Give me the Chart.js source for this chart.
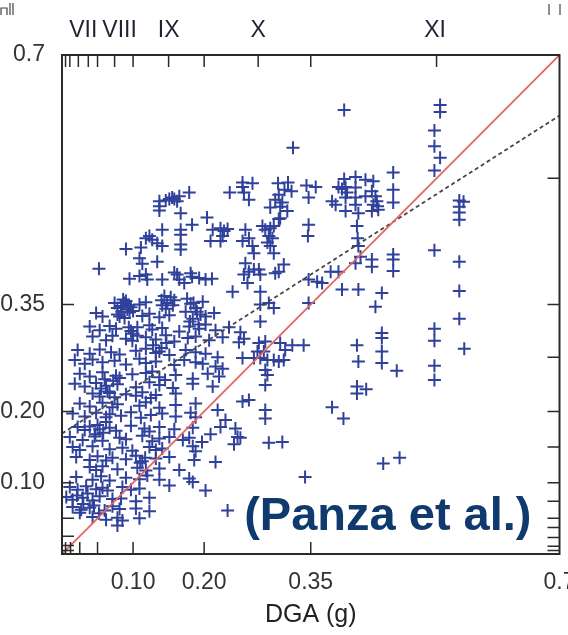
<!DOCTYPE html>
<html>
<head>
<meta charset="utf-8">
<title>DGA vs PGA</title>
<script src="https://cdn.jsdelivr.net/npm/chart.js@4/dist/chart.umd.min.js"></script>
<style>
  html, body { margin: 0; padding: 0; background: #fff; }
</style>
</head>
<body>
<canvas id="dgaChart" width="568" height="635"></canvas>
<script>
// observed pairs [DGA, PGA] in g
const denseCluster = [
  [0.074,0.352],[0.083,0.348],[0.090,0.355],[0.097,0.346],[0.109,0.350],[0.118,0.353],[0.141,0.349],[0.146,0.344],[0.158,0.356],[0.181,0.351],[0.188,0.345],[0.198,0.354],
  [0.048,0.338],[0.057,0.333],[0.078,0.336],[0.088,0.331],[0.095,0.339],[0.113,0.334],[0.123,0.337],[0.137,0.332],[0.151,0.335],[0.174,0.340],[0.184,0.330],[0.195,0.336],[0.202,0.333],[0.214,0.338],
  [0.039,0.319],[0.053,0.314],[0.067,0.320],[0.076,0.316],[0.097,0.313],[0.106,0.318],[0.123,0.321],[0.127,0.315],[0.141,0.317],[0.165,0.312],[0.179,0.319],[0.193,0.316],[0.202,0.322],[0.216,0.314],[0.235,0.318],[0.251,0.311],
  [0.043,0.305],[0.062,0.300],[0.071,0.306],[0.090,0.302],[0.099,0.299],[0.118,0.304],[0.132,0.301],[0.146,0.307],[0.158,0.298],[0.177,0.303],[0.188,0.305],[0.207,0.300],[0.226,0.304],[0.249,0.297],[0.256,0.302],
  [0.022,0.286],[0.039,0.281],[0.053,0.287],[0.069,0.283],[0.081,0.280],[0.104,0.285],[0.118,0.288],[0.132,0.282],[0.137,0.284],[0.151,0.279],[0.174,0.286],[0.188,0.283],[0.202,0.281],[0.219,0.276],
  [0.018,0.272],[0.032,0.267],[0.043,0.273],[0.057,0.269],[0.074,0.271],[0.090,0.266],[0.109,0.274],[0.118,0.268],[0.132,0.270],[0.158,0.265],[0.172,0.272],[0.188,0.269],[0.198,0.267],[0.216,0.263],[0.226,0.260],[0.254,0.275],
  [0.025,0.253],[0.039,0.249],[0.057,0.255],[0.076,0.250],[0.081,0.247],[0.099,0.252],[0.118,0.254],[0.137,0.248],[0.160,0.251],[0.184,0.246],[0.205,0.253],[0.221,0.249],
  [0.018,0.239],[0.032,0.235],[0.048,0.240],[0.062,0.236],[0.078,0.238],[0.104,0.234],[0.123,0.241],[0.137,0.237],[0.156,0.233],[0.184,0.239],[0.212,0.235],
  [0.043,0.225],[0.053,0.221],[0.067,0.226],[0.074,0.220],[0.090,0.224],[0.104,0.222],[0.113,0.227],[0.125,0.219],[0.132,0.223],[0.160,0.225],
  [0.025,0.211],[0.039,0.207],[0.057,0.212],[0.071,0.206],[0.078,0.210],[0.109,0.208],[0.118,0.213],[0.137,0.205],[0.160,0.209],[0.188,0.211],
  [0.015,0.197],[0.032,0.193],[0.048,0.198],[0.062,0.192],[0.067,0.196],[0.083,0.194],[0.097,0.199],[0.111,0.191],[0.125,0.195],[0.141,0.197],[0.160,0.193],[0.181,0.198],[0.188,0.192],
  [0.022,0.178],[0.032,0.174],[0.039,0.179],[0.053,0.175],[0.067,0.177],[0.076,0.173],[0.097,0.180],[0.116,0.176],[0.123,0.172],[0.137,0.178],[0.158,0.175],[0.184,0.177],
  [0.011,0.164],[0.029,0.160],[0.046,0.165],[0.057,0.159],[0.081,0.163],[0.090,0.161],[0.113,0.166],[0.127,0.158],[0.137,0.162],[0.151,0.164],[0.170,0.160],[0.179,0.163],
  [0.015,0.150],[0.025,0.146],[0.043,0.151],[0.067,0.147],[0.085,0.149],[0.099,0.145],[0.123,0.150],[0.132,0.146],[0.141,0.148],[0.184,0.151],[0.188,0.144],
  [0.020,0.136],[0.039,0.132],[0.050,0.137],[0.062,0.131],[0.071,0.135],[0.090,0.133],[0.104,0.138],[0.113,0.130],[0.132,0.134],[0.151,0.136],[0.186,0.132],
  [0.039,0.122],[0.048,0.118],[0.057,0.123],[0.078,0.119],[0.106,0.121],[0.118,0.117],[0.137,0.120],[0.165,0.118],
  [0.020,0.108],[0.043,0.104],[0.055,0.109],[0.067,0.103],[0.090,0.107],[0.109,0.105],[0.120,0.110],[0.137,0.104],[0.179,0.106],[0.184,0.101],
  [0.011,0.094],[0.022,0.090],[0.034,0.095],[0.048,0.091],[0.057,0.093],[0.064,0.089],[0.085,0.094],[0.097,0.090],[0.109,0.092],[0.151,0.096],
  [0.006,0.080],[0.015,0.076],[0.029,0.079],[0.043,0.075],[0.053,0.081],[0.071,0.077],[0.083,0.078],[0.104,0.074],[0.123,0.079],
  [0.015,0.066],[0.027,0.062],[0.039,0.065],[0.060,0.061],[0.071,0.067],[0.081,0.063],[0.104,0.064],[0.123,0.060],
  [0.043,0.052],[0.062,0.048],[0.078,0.051],[0.085,0.047],[0.109,0.050],[0.078,0.040]
];

// tightly packed blobs inside the main cloud
const denseBlobs = [
  [0.078,0.345],[0.084,0.340],[0.088,0.352],[0.092,0.343],[0.081,0.333],[0.094,0.349],[0.086,0.357],[0.100,0.341],
  [0.140,0.356],[0.148,0.352],[0.153,0.360],[0.144,0.362],[0.156,0.349],
  [0.176,0.358],[0.185,0.352],[0.190,0.340],[0.180,0.326],[0.192,0.322],
  [0.100,0.309],[0.106,0.306],[0.094,0.318],
  [0.050,0.181],[0.058,0.170],[0.062,0.185],[0.047,0.168],
  [0.021,0.082],[0.030,0.070],[0.036,0.085],[0.045,0.068],[0.025,0.058],[0.052,0.057],
  [0.055,0.232],[0.064,0.228],[0.072,0.243],[0.060,0.245],
  [0.110,0.128],[0.117,0.135],
  [0.128,0.293],[0.140,0.289],[0.147,0.296],
  [0.127,0.256],[0.145,0.244]
];

const lowerRightGroup = [
  [0.263,0.216],[0.254,0.214],[0.219,0.202],[0.230,0.188],[0.223,0.178],[0.244,0.176],[0.247,0.164],
  [0.242,0.154],[0.251,0.163],[0.209,0.168],[0.197,0.157],[0.216,0.129],[0.202,0.089],[0.233,0.061],
  [0.279,0.350],[0.291,0.352],[0.298,0.345],[0.279,0.326],[0.347,0.352],[0.441,0.347],
  [0.286,0.298],[0.277,0.296],[0.275,0.284],[0.284,0.284],[0.289,0.272],[0.279,0.275],[0.270,0.275],
  [0.307,0.296],[0.324,0.293],[0.340,0.293],[0.314,0.286],[0.312,0.272],[0.305,0.270],[0.298,0.272],
  [0.286,0.258],[0.289,0.251],[0.286,0.237],[0.415,0.293],[0.417,0.270],
  [0.450,0.310],[0.450,0.303],[0.450,0.284],[0.450,0.268],[0.471,0.257],
  [0.415,0.235],[0.415,0.225],[0.428,0.231],[0.380,0.206],[0.396,0.190],
  [0.286,0.202],[0.286,0.190],[0.291,0.156],[0.310,0.157],[0.452,0.127],[0.475,0.135],[0.342,0.108]
];

const upperLeftGroup = [
  [0.179,0.507],[0.165,0.502],[0.158,0.498],[0.151,0.498],[0.146,0.496],[0.137,0.495],[0.137,0.488],[0.137,0.482],
  [0.167,0.478],[0.162,0.495],[0.155,0.500],[0.141,0.455],[0.167,0.455],[0.183,0.462],[0.167,0.448],
  [0.123,0.446],[0.118,0.443],[0.127,0.441],[0.134,0.436],[0.141,0.432],[0.090,0.428],[0.111,0.430],
  [0.167,0.434],[0.167,0.427],[0.109,0.415],[0.113,0.407],[0.134,0.410],[0.052,0.400],
  [0.095,0.386],[0.109,0.390],[0.118,0.392],[0.120,0.385],[0.141,0.385],[0.158,0.395],[0.162,0.392],
  [0.165,0.385],[0.181,0.394],[0.183,0.389],[0.172,0.380]
];

const upperMidGroup = [
  [0.397,0.623],[0.325,0.570],
  [0.254,0.521],[0.268,0.520],[0.254,0.515],[0.256,0.507],[0.263,0.497],[0.236,0.507],[0.304,0.520],[0.318,0.521],
  [0.313,0.511],[0.323,0.509],[0.305,0.504],[0.300,0.497],[0.310,0.493],[0.293,0.486],[0.307,0.487],[0.317,0.481],
  [0.307,0.471],[0.344,0.517],[0.357,0.515],[0.347,0.500],[0.380,0.495],[0.385,0.490],
  [0.397,0.526],[0.413,0.529],[0.427,0.525],[0.438,0.523],[0.389,0.515],[0.399,0.515],[0.394,0.512],[0.413,0.514],
  [0.401,0.507],[0.413,0.500],[0.399,0.500],[0.427,0.502],[0.436,0.509],[0.441,0.502],[0.443,0.495],[0.438,0.490],
  [0.444,0.488],[0.413,0.490],[0.399,0.481],[0.417,0.478],[0.436,0.481],[0.445,0.483],
  [0.204,0.472],[0.212,0.455],[0.223,0.457],[0.228,0.453],[0.209,0.439],[0.223,0.439],[0.233,0.456],[0.226,0.446],
  [0.258,0.455],[0.263,0.443],[0.254,0.439],[0.268,0.432],[0.270,0.422],[0.282,0.460],[0.286,0.455],[0.293,0.457],
  [0.291,0.446],[0.296,0.443],[0.289,0.437],[0.293,0.432],[0.298,0.422],[0.305,0.470],[0.298,0.460],
  [0.347,0.462],[0.346,0.446],
  [0.258,0.408],[0.263,0.396],[0.270,0.399],[0.277,0.399],[0.256,0.392],[0.261,0.380],[0.279,0.392],[0.305,0.396],
  [0.312,0.406],[0.300,0.394],[0.193,0.387],[0.202,0.385],[0.211,0.386],[0.240,0.368],[0.279,0.368],
  [0.347,0.385],[0.359,0.382],[0.366,0.380],[0.378,0.396],[0.389,0.396],
  [0.415,0.460],[0.416,0.443],[0.417,0.432],[0.420,0.417],[0.436,0.413],[0.436,0.403],[0.413,0.408],
  [0.394,0.371],[0.417,0.371],[0.450,0.366]
];

const rightColumns = [
  [0.532,0.630],[0.532,0.620],[0.524,0.594],[0.524,0.572],[0.532,0.556],[0.524,0.538],
  [0.466,0.535],[0.466,0.511],[0.466,0.493],[0.466,0.420],[0.466,0.413],[0.466,0.397],
  [0.559,0.496],[0.565,0.494],[0.559,0.487],[0.559,0.479],[0.559,0.469],
  [0.524,0.426],[0.559,0.410],[0.559,0.369],[0.559,0.330],[0.566,0.288],
  [0.524,0.316],[0.524,0.299],[0.524,0.264],[0.524,0.244]
];

// 1:1 reference and fitted trend, as [DGA, PGA] end points
const oneToOneLine = [[0, 0], [0.7, 0.7]];
const fitLine = [[0, 0.169], [0.7, 0.615]];

// axis ticks
const axisTickValues = [0.1, 0.2, 0.35, 0.7];
const axisTickLabels = ['0.10', '0.20', '0.35', '0.7'];
const lowerMinorTicks = [0.005, 0.012, 0.025, 0.05, 0.1, 0.2, 0.35];
const intensityTicks = [0.005, 0.011, 0.023, 0.037, 0.05, 0.074, 0.1, 0.15, 0.2, 0.276, 0.35, 0.527];
const intensityLabelValues = [0.030, 0.081, 0.150, 0.276, 0.525];
const intensityLabels = ['VII', 'VIII', 'IX', 'X', 'XI'];

const toXY = (pairs) => pairs.map(([x, y]) => ({ x, y }));
const allPoints = toXY([...denseCluster, ...denseBlobs, ...lowerRightGroup, ...upperLeftGroup, ...upperMidGroup, ...rightColumns]);

Chart.defaults.font.family = '"Liberation Sans", Arial, Helvetica, sans-serif';

function labelFor(values, labels) {
  return (value) => {
    const i = values.findIndex((v) => Math.abs(v - value) < 1e-6);
    return i >= 0 ? labels[i] : '';
  };
}

const framePlugin = {
  id: 'frame',
  afterDraw(chart) {
    const { ctx, chartArea: a, scales } = chart;
    const xs = scales.x;
    const ys = scales.y;
    const tick = 12;
    ctx.save();
    ctx.strokeStyle = '#2a2a2a';
    ctx.lineWidth = 1.5;
    ctx.beginPath();
    lowerMinorTicks.forEach((v) => {
      const px = xs.getPixelForValue(v);
      ctx.moveTo(px, a.bottom);
      ctx.lineTo(px, a.bottom - tick);
      const py = ys.getPixelForValue(v);
      ctx.moveTo(a.left, py);
      ctx.lineTo(a.left + tick, py);
    });
    intensityTicks.forEach((v) => {
      const px = xs.getPixelForValue(v);
      ctx.moveTo(px, a.top);
      ctx.lineTo(px, a.top + tick);
      const py = ys.getPixelForValue(v);
      ctx.moveTo(a.right, py);
      ctx.lineTo(a.right - tick, py);
    });
    ctx.stroke();
    ctx.lineWidth = 2;
    ctx.strokeRect(a.left, a.top, a.width, a.height);

    // small edge marks at the top corners
    ctx.lineWidth = 1.2;
    ctx.strokeStyle = '#444';
    ctx.beginPath();
    ctx.moveTo(1, 15); ctx.lineTo(1, 8); ctx.lineTo(7, 8); ctx.lineTo(7, 15);
    ctx.moveTo(10, 3); ctx.lineTo(10, 15);
    ctx.moveTo(13, 3); ctx.lineTo(13, 15);
    ctx.moveTo(549, 4); ctx.lineTo(549, 15);
    ctx.moveTo(560, 4); ctx.lineTo(560, 15);
    ctx.stroke();

    ctx.font = 'bold 47px "Liberation Sans", Arial, sans-serif';
    ctx.fillStyle = '#10396d';
    ctx.textAlign = 'right';
    ctx.textBaseline = 'middle';
    ctx.fillText('(Panza et al.)', a.right - 28, a.bottom - 37);
    ctx.restore();
  }
};

new Chart(document.getElementById('dgaChart'), {
  type: 'scatter',
  data: {
    datasets: [
      {
        type: 'line',
        data: toXY(oneToOneLine),
        borderColor: '#e5655f',
        borderWidth: 1.8,
        pointRadius: 0,
        order: 0,
      },
      {
        type: 'line',
        data: toXY(fitLine),
        borderColor: '#474747',
        borderDash: [4, 3],
        borderWidth: 1.8,
        pointRadius: 0,
        order: 0,
      },
      {
        data: allPoints,
        pointStyle: 'cross',
        pointRadius: 6.5,
        borderWidth: 2,
        borderColor: '#2f419a',
        backgroundColor: '#2f419a',
        order: 1,
      },
    ],
  },
  options: {
    responsive: false,
    animation: false,
    events: [],
    devicePixelRatio: 1,
    layout: { padding: { left: 0, right: 6, top: 0, bottom: 0 } },
    plugins: {
      legend: { display: false },
      tooltip: { enabled: false },
    },
    scales: {
      x: {
        type: 'linear',
        position: 'bottom',
        min: 0,
        max: 0.7,
        grid: { display: false, drawTicks: false },
        border: { display: false },
        afterBuildTicks: (scale) => { scale.ticks = axisTickValues.map((v) => ({ value: v })); },
        afterFit: (scale) => { scale.height = 81; scale.paddingLeft = 0; scale.paddingRight = 0; },
        ticks: {
          autoSkip: false,
          maxRotation: 0,
          padding: 15,
          color: '#333',
          font: { size: 23 },
          callback: labelFor(axisTickValues, axisTickLabels),
        },
        title: {
          display: true,
          text: 'DGA (g)',
          color: '#222',
          font: { size: 25 },
          padding: { top: 0, bottom: 5 },
        },
      },
      xTop: {
        type: 'linear',
        position: 'top',
        min: 0,
        max: 0.7,
        grid: { display: false, drawTicks: false },
        border: { display: false },
        afterBuildTicks: (scale) => { scale.ticks = intensityLabelValues.map((v) => ({ value: v })); },
        afterFit: (scale) => { scale.height = 55; scale.paddingLeft = 0; scale.paddingRight = 0; },
        ticks: {
          autoSkip: false,
          maxRotation: 0,
          padding: 11,
          color: '#1f2233',
          font: { size: 23 },
          callback: labelFor(intensityLabelValues, intensityLabels),
        },
      },
      y: {
        type: 'linear',
        position: 'left',
        min: 0,
        max: 0.7,
        grid: { display: false, drawTicks: false },
        border: { display: false },
        afterBuildTicks: (scale) => { scale.ticks = axisTickValues.map((v) => ({ value: v })); },
        afterFit: (scale) => { scale.width = 62; scale.paddingTop = 0; scale.paddingBottom = 0; },
        ticks: {
          autoSkip: false,
          padding: 17,
          color: '#333',
          font: { size: 23 },
          callback: labelFor(axisTickValues, axisTickLabels),
        },
      },
    },
  },
  plugins: [framePlugin],
});
</script>
</body>
</html>
